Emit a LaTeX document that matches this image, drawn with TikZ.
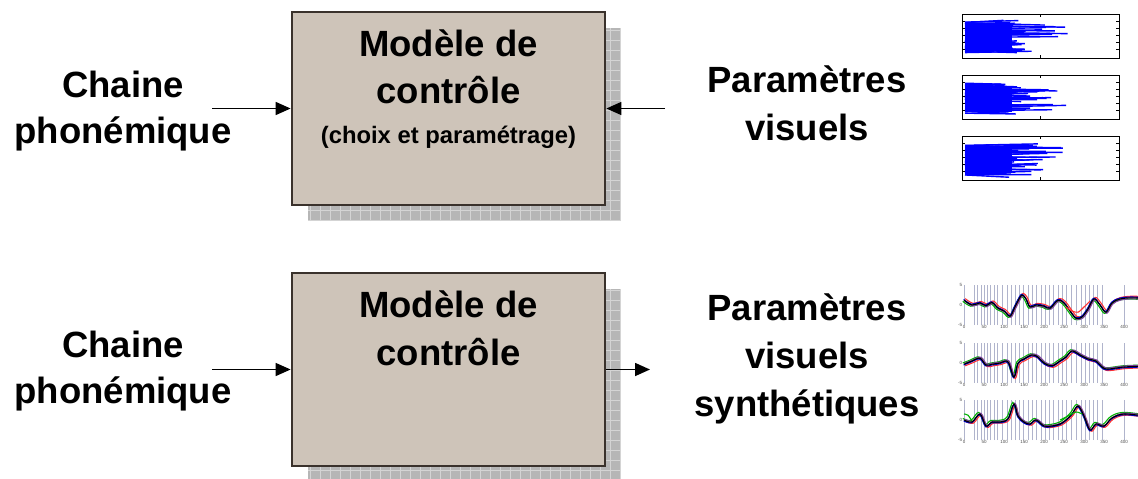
\documentclass[tikz,border=0pt]{standalone}
\usepackage{fontspec}
\setmainfont{Liberation Sans}[BoldFont={Liberation Sans Bold}]
\usetikzlibrary{arrows.meta}
\definecolor{boxfill}{HTML}{CEC4B9}
\definecolor{boxline}{HTML}{3A322C}
\definecolor{shadowfill}{HTML}{B6B6B6}
\definecolor{shadowgrid}{HTML}{D4D4D4}
\definecolor{vline}{HTML}{B0B4CC}
\definecolor{curvepurple}{HTML}{8040A0}
\begin{document}
\begin{tikzpicture}[x=1pt,y=-1pt,
  big/.style={font=\bfseries\fontsize{36.5}{47}\selectfont, anchor=base, inner sep=0},
  small/.style={font=\bfseries\fontsize{23.8}{28}\selectfont, anchor=base, inner sep=0},
  ctrl/.style={draw=boxline, fill=boxfill, line width=2.8pt, minimum width=313pt, minimum height=193pt, inner sep=0},
  shadowgridline/.style={draw=shadowgrid, line width=0.8pt},
  arr/.style={line width=1.6pt, -{Triangle[length=15pt,width=13pt]}},
  ticklabel/.style={font=\fontsize{4.5}{5}\selectfont, text=black!70, inner sep=0.6pt},
  curve/.style={line width=1.1pt},
]
\useasboundingbox (0,0) rectangle (1138,479);

% ---------- row 1 ----------
\fill[shadowfill] (308,28) rectangle (621,221);
\draw[shadowgridline, step=10pt] (308,28) grid (621,221);
\node[ctrl] (m1) at (448.5,108.5) {};
\node[big] (m1a) at (448.5,56) {Modèle de};
\node[big] (m1b) at (448.5,103) {contrôle};
\node[small] (m1c) at (448.5,143) {(choix et paramétrage)};

\node[big] (l1a) at (123,97) {Chaine};
\node[big] (l1b) at (123,143) {phonémique};
\node[big] (r1a) at (807,92) {Paramètres};
\node[big] (r1b) at (807,140) {visuels};

\coordinate (c1) at (212,108.5);
\coordinate (c2) at (665,108.5);
\draw[arr] (c1) -- (m1.west);
\draw[arr] (c2) -- (m1.east);

% small blue plots
\pgfmathsetseed{7}
\foreach \T in {14,75,136} {
  \begin{scope}
    \clip (962,\T) rectangle (1119,\T+44);
    \fill[blue] (965,\T+11) rectangle (1012,\T+37);
    \foreach \k in {1,...,70} {
      \pgfmathsetmacro\ya{\T+8+31*rnd}
      \pgfmathsetmacro\yb{\ya+5*rnd-2.5}
      \pgfmathsetmacro\xe{1000+75*rnd*rnd}
      \draw[blue, line width=1.4pt] (965,\ya) -- (\xe,\yb);
    }
  \end{scope}
  \draw[line width=1pt] (962,\T) rectangle (1119,\T+44);
  \foreach \q in {7,14,21,28,35} {
    \draw[line width=0.5pt] (962,\T+\q) -- (965,\T+\q);
    \draw[line width=0.5pt] (1116,\T+\q) -- (1119,\T+\q);
  }
  \draw[line width=0.5pt] (1040,\T) -- (1040,\T+3);
  \draw[line width=0.5pt] (1040,\T+44) -- (1040,\T+41);
}

% ---------- row 2 ----------
\fill[shadowfill] (308,289) rectangle (621,482);
\draw[shadowgridline, step=10pt] (308,289) grid (621,482);
\node[ctrl] (m2) at (448.5,369.5) {};
\node[big] (m2a) at (448.5,317) {Modèle de};
\node[big] (m2b) at (448.5,365) {contrôle};

\node[big] (l2a) at (123,357) {Chaine};
\node[big] (l2b) at (123,403) {phonémique};
\node[big] (r2a) at (807,320) {Paramètres};
\node[big] (r2b) at (807,368) {visuels};
\node[big] (r2c) at (807,416) {synthétiques};

\coordinate (c3) at (212,369.5);
\coordinate (c4) at (650,369.5);
\draw[arr] (c3) -- (m2.west);
\draw[arr] (m2.east) -- (c4);

% curve plots
\foreach \Z [count=\p] in {305,363,420} {
  \begin{scope}[shift={(964,\Z)}, x=0.4pt, y=4pt]
    \foreach \v in {25,33,42,50,58,66,75,84,96,108,118,128,138,148,160,170,180,192,204,214,224,236,246,256,268,280,292,302,312,322,334,346,400} {
      \draw[vline, line width=0.4pt] (\v,-5) -- (\v,5);
    }
    \draw[vline, line width=0.4pt] (0,-5) -- (0,5);
    \node[ticklabel, anchor=east] (p\p y1) at (-3,5) {5};
    \node[ticklabel, anchor=east] (p\p y2) at (-3,0) {0};
    \node[ticklabel, anchor=east] (p\p y3) at (-3,-5) {-5};
    \foreach \v [count=\i] in {0,50,...,400} {
      \node[ticklabel, anchor=north] (p\p x\i) at (\v,-5) {\v};
    }
  \end{scope}
}

% plot 1
\begin{scope}[shift={(964,305)}, x=0.4pt, y=4pt]
  \clip (-5,-6) rectangle (500,6);
  \foreach \col/\dx/\dy in {red!80/3/0.4, green!70!black/-3/-0.3, curvepurple/2/-0.25, blue!80!black/-1/0.2, black/0/0} {
    \draw[curve, \col, shift={(\dx,\dy)}] plot[smooth, tension=0.6] coordinates {(0,1.2) (20,0) (40,0.5) (55,-0.2) (70,0.6) (85,-0.8) (100,-1.5) (115,-2.8) (125,-1) (135,1) (145,2.5) (155,1.5) (165,-0.5) (180,0) (200,-0.3) (215,-0.8) (235,1.2) (250,0.5) (265,-1.5) (280,-3.3) (295,-3) (310,-1) (325,1.5) (340,0) (355,-1.8) (370,0.5) (390,1.5) (420,1.8) (450,1.6)};
  }
  \draw[curve, red!80] plot[smooth] coordinates {(255,-0.5) (270,-1.5) (285,-1.8) (300,-0.5) (315,1)};
\end{scope}

% plot 2
\begin{scope}[shift={(964,363)}, x=0.4pt, y=4pt]
  \clip (-5,-6) rectangle (500,6);
  \foreach \col/\dx/\dy in {red!80/3/-0.4, green!70!black/-3/0.3, curvepurple/2/0.25, blue!80!black/-1/-0.2, black/0/0} {
    \draw[curve, \col, shift={(\dx,\dy)}] plot[smooth, tension=0.6] coordinates {(0,-0.3) (20,0.5) (40,1.2) (55,-0.5) (70,-0.3) (90,0) (110,0.3) (125,-3.5) (135,0) (150,1) (170,2) (185,1.5) (200,0) (220,-0.7) (240,0.5) (255,1.5) (270,3) (290,2) (310,1) (330,0.5) (345,-1) (360,-1.5) (400,-1) (450,-0.8)};
  }
\end{scope}

% plot 3
\begin{scope}[shift={(964,420)}, x=0.4pt, y=4pt]
  \clip (-5,-6) rectangle (500,6);
  \foreach \col/\dx/\dy in {red!80/3/-0.3, green!70!black/-3/0.4, curvepurple/2/0.2, blue!80!black/-1/-0.2, black/0/0} {
    \draw[curve, \col, shift={(\dx,\dy)}] plot[smooth, tension=0.6] coordinates {(0,0) (20,-0.5) (40,1.5) (55,-1.5) (70,-0.5) (90,-0.5) (110,0.3) (125,4) (135,1) (150,-0.5) (165,-1) (180,0) (200,-1.5) (220,-1.5) (240,-1) (255,0) (270,1.5) (285,3.5) (300,1) (315,-2.5) (330,-1) (350,-1.5) (370,0.5) (400,1.5) (450,1)};
  }
  \draw[curve, green!70!black] plot[smooth] coordinates {(240,0) (260,1) (280,2) (295,1.5)};
  \draw[curve, green!70!black] plot[smooth] coordinates {(0,1.5) (10,1.2) (20,-0.3)};
\end{scope}

\end{tikzpicture}
\end{document}
